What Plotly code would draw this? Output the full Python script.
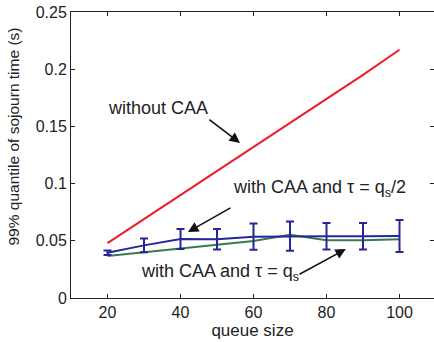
import plotly.graph_objects as go

queue_size = [20, 30, 40, 50, 60, 70, 80, 90, 100]
without_caa = [0.048, 0.069, 0.090, 0.111, 0.132, 0.153, 0.174, 0.195, 0.217]
caa_half = [0.0396, 0.046, 0.0516, 0.0514, 0.0536, 0.054, 0.054, 0.054, 0.0542]
caa_half_err = [0.002, 0.006, 0.0087, 0.009, 0.0115, 0.0128, 0.0115, 0.0115, 0.014]
caa_full = [0.0367, 0.040, 0.0431, 0.046, 0.0498, 0.0553, 0.0504, 0.0504, 0.0513]

xticks = [20, 40, 60, 80, 100]
yticks = [0, 0.05, 0.1, 0.15, 0.2, 0.25]
ytick_labels = ["0", "0.05", "0.1", "0.15", "0.2", "0.25"]

RED = "#ee1c25"
BLUE = "#26269a"
GREEN = "#3b7a4f"
FONT = "Liberation Sans, Arial, sans-serif"
TXT = "#222"

fig = go.Figure()
fig.add_trace(go.Scatter(x=queue_size, y=without_caa, mode="lines",
                         line=dict(color=RED, width=2), showlegend=False))
fig.add_trace(go.Scatter(x=queue_size, y=caa_full, mode="lines",
                         line=dict(color=GREEN, width=2), showlegend=False))
fig.add_trace(go.Scatter(x=queue_size, y=caa_half, mode="lines",
                         line=dict(color=BLUE, width=2),
                         error_y=dict(type="data", array=caa_half_err, visible=True,
                                      color=BLUE, thickness=2, width=4),
                         showlegend=False))

# annotation texts (x, y of main text centre)
texts = [
    ("without CAA", 33.8, 0.166),
    ("with CAA and τ = q<sub>s</sub>/2", 78.1, 0.0961),
    ("with CAA and τ = q<sub>s</sub>", 50.8, 0.0221),
]
for t, x, y in texts:
    fig.add_annotation(x=x, y=y, text=t, showarrow=False, yanchor="middle",
                       font=dict(family=FONT, size=18, color=TXT))

arrows = [
    ((47.5, 0.157), (56.3, 0.1355)),
    ((54.1, 0.0795), (42.05, 0.0577)),
    ((72.2, 0.0201), (85.3, 0.0428)),
]
for (tx, ty), (hx, hy) in arrows:
    fig.add_annotation(x=hx, y=hy, ax=tx, ay=ty, axref="x", ayref="y",
                       xref="x", yref="y", text="", showarrow=True,
                       arrowhead=2, arrowsize=1.3, arrowwidth=1.6,
                       arrowcolor="#111")

# y-axis title as rotated annotation
fig.add_annotation(text="99% quantile of sojourn time (s)", textangle=-90,
                   xref="paper", yref="paper", x=(13 - 71) / 363, y=(298 - 136.5) / 286,
                   xanchor="center", yanchor="middle", showarrow=False,
                   font=dict(family=FONT, size=15.5, color=TXT))

axis_common = dict(showline=True, linecolor=TXT, linewidth=1, mirror="allticks",
                   ticks="inside", ticklen=4, tickcolor=TXT, showgrid=False,
                   zeroline=False, tickfont=dict(family=FONT, size=16, color=TXT))

fig.update_xaxes(range=[10, 109.45], tickvals=xticks,
                 title=dict(text="queue size", font=dict(family=FONT, size=17, color=TXT),
                            standoff=0),
                 **axis_common)
fig.update_yaxes(range=[0, 0.25], tickvals=yticks, ticktext=ytick_labels,
                 **axis_common)

fig.update_layout(width=434, height=342, margin=dict(l=71, r=0, t=12, b=44),
                  plot_bgcolor="white", paper_bgcolor="white")

fig.write_html("out.html")
